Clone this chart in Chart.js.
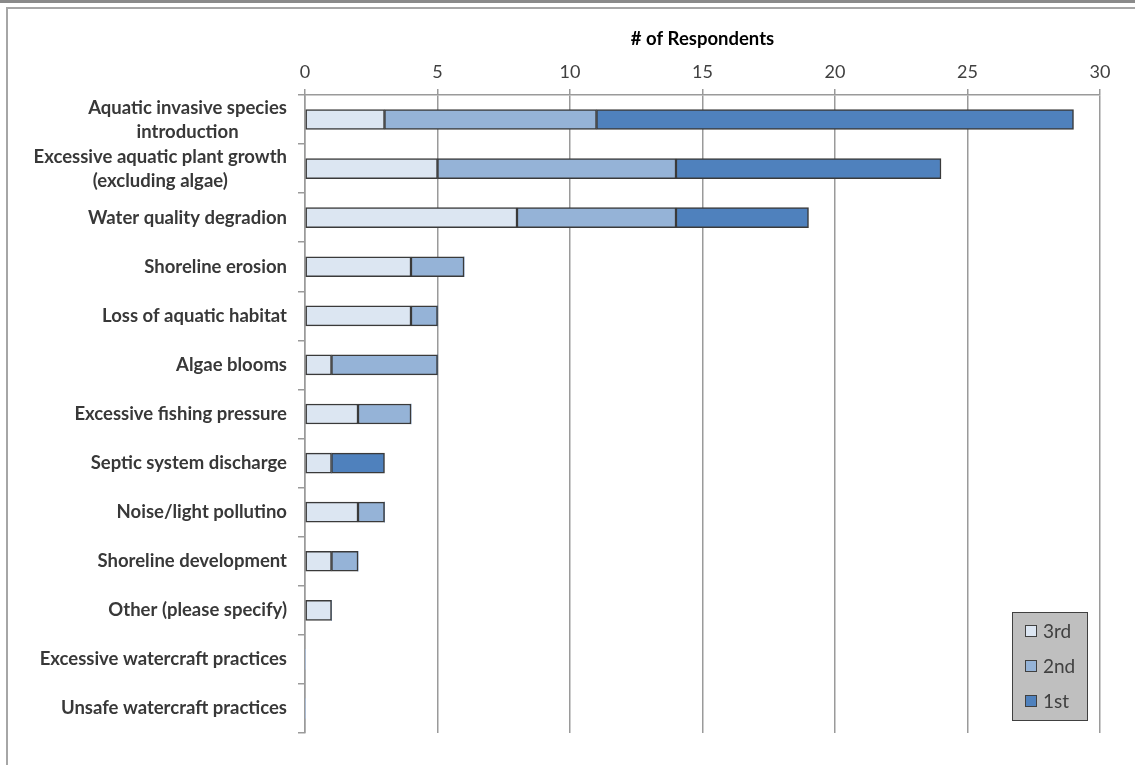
<!DOCTYPE html>
<html>
<head>
<meta charset="utf-8">
<script src="https://cdn.jsdelivr.net/npm/chart.js@4.4.1/dist/chart.umd.min.js"></script>
<style>
  html, body { margin: 0; padding: 0; background: #fff; }
  #wrap { position: relative; width: 1135px; height: 765px; overflow: hidden; }
  #topbar { position: absolute; left: 0; top: 0; width: 1135px; height: 3px; background: #8a8a8a; }
  #frame { position: absolute; left: 6px; top: 7px; width: 1140px; height: 780px;
           border-left: 2px solid #a6a6a6; border-top: 2px solid #a6a6a6; }
  #box { position: absolute; left: 0; top: 0; width: 1135px; height: 765px; }
</style>
</head>
<body>
<div id="wrap">
  <div id="topbar"></div>
  <div id="frame"></div>
  <div id="box"><canvas id="chart"></canvas></div>
</div>
<script>
// issues ranked by respondents, stacked by rank (3rd, 2nd, 1st)
const categories = [
  ['Aquatic invasive species', 'introduction'],
  ['Excessive aquatic plant growth', '(excluding algae)'],
  'Water quality degradion',
  'Shoreline erosion',
  'Loss of aquatic habitat',
  'Algae blooms',
  'Excessive fishing pressure',
  'Septic system discharge',
  'Noise/light pollutino',
  'Shoreline development',
  'Other (please specify)',
  'Excessive watercraft practices',
  'Unsafe watercraft practices'
];
const third  = [3, 5, 8, 4, 4, 1, 2, 1, 2, 1, 1, 0, 0];
const second = [8, 9, 6, 2, 1, 4, 2, 0, 1, 1, 0, 0, 0];
const first  = [18, 10, 5, 0, 0, 0, 0, 2, 0, 0, 0, 0, 0];
const xTicks = [0, 5, 10, 15, 20, 25, 30];

const LABEL_FONT = 'bold 18.5px Lato';
const LABEL_COLOR = '#383838';
const AXIS_GRAY = '#9a9a9a';

// category labels: right-aligned block, lines centred within the block
const categoryLabels = {
  id: 'categoryLabels',
  afterDraw(chart) {
    const { ctx, scales: { y } } = chart;
    ctx.save();
    ctx.font = LABEL_FONT;
    ctx.fillStyle = LABEL_COLOR;
    ctx.textAlign = 'center';
    ctx.textBaseline = 'middle';
    const right = 287, lh = 24;
    categories.forEach((c, i) => {
      const lines = Array.isArray(c) ? c : [c];
      const w = Math.max(...lines.map(l => ctx.measureText(l).width));
      const cx = right - w / 2;
      const cy = y.getPixelForValue(i) - (lines.length - 1) * lh / 2;
      lines.forEach((l, k) => ctx.fillText(l, cx, cy + k * lh));
    });
    ctx.restore();
  }
};

// boxed legend in the lower right corner, first-ranked at the bottom
const boxLegend = {
  id: 'boxLegend',
  afterDraw(chart) {
    const { ctx } = chart;
    const x0 = 1012, y0 = 612, w = 75, h = 108;
    ctx.save();
    ctx.fillStyle = '#bfbfbf';
    ctx.fillRect(x0, y0, w, h);
    ctx.strokeStyle = '#404040';
    ctx.lineWidth = 1;
    ctx.strokeRect(x0 + 0.5, y0 + 0.5, w, h);
    ctx.font = '19px Lato';
    ctx.textBaseline = 'middle';
    ctx.textAlign = 'left';
    const rows = chart.data.datasets.map(d => ({ label: d.label, color: d.backgroundColor }));
    rows.forEach((r, i) => {
      const cy = 631 + i * 35;
      ctx.fillStyle = r.color;
      ctx.fillRect(x0 + 13, cy - 6, 12, 12);
      ctx.strokeStyle = '#404040';
      ctx.strokeRect(x0 + 13.5, cy - 5.5, 11, 11);
      ctx.fillStyle = '#404040';
      ctx.fillText(r.label, x0 + 31, cy + 1);
    });
    ctx.restore();
  }
};

const segBorder = c => (c.raw ? 1.5 : 0);

new Chart(document.getElementById('chart'), {
  type: 'bar',
  data: {
    labels: categories.map(c => Array.isArray(c) ? c.join(' ') : c),
    datasets: [
      { label: '3rd', data: third,  backgroundColor: '#dce6f2' },
      { label: '2nd', data: second, backgroundColor: '#95b3d7' },
      { label: '1st', data: first,  backgroundColor: '#4f81bd' }
    ].map(d => Object.assign(d, {
      borderColor: '#3a3a3a',
      borderWidth: segBorder,
      borderSkipped: false,
      barThickness: 20
    }))
  },
  options: {
    indexAxis: 'y',
    responsive: true,
    maintainAspectRatio: false,
    animation: false,
    layout: { padding: { left: 0, right: 35, top: 28, bottom: 32 } },
    plugins: {
      legend: { display: false },
      tooltip: { enabled: false }
    },
    scales: {
      x: {
        position: 'top',
        stacked: true,
        min: 0,
        max: 30,
        afterBuildTicks: s => { s.ticks = xTicks.map(v => ({ value: v })); },
        afterFit: s => { s.height = 67; },
        ticks: { color: '#404040', font: { family: 'Lato', size: 18 }, padding: 6 },
        grid: { color: AXIS_GRAY, lineWidth: 1.5, tickLength: 6 },
        border: { color: AXIS_GRAY, width: 1.5 },
        title: {
          display: true,
          text: '# of Respondents',
          color: '#000',
          font: { family: 'Lato', size: 18.5, weight: 'bold' },
          padding: { top: 0, bottom: 4 }
        }
      },
      y: {
        stacked: true,
        offset: true,
        afterFit: s => { s.width = 305; },
        ticks: { display: false },
        grid: {
          offset: true,
          drawOnChartArea: true,
          tickLength: 7,
          lineWidth: 1.5,
          tickColor: AXIS_GRAY,
          color: c => (c.index === categories.length ? AXIS_GRAY : 'rgba(0,0,0,0)')
        },
        border: { color: AXIS_GRAY, width: 1.5 }
      }
    }
  },
  plugins: [categoryLabels, boxLegend]
});
</script>
</body>
</html>
